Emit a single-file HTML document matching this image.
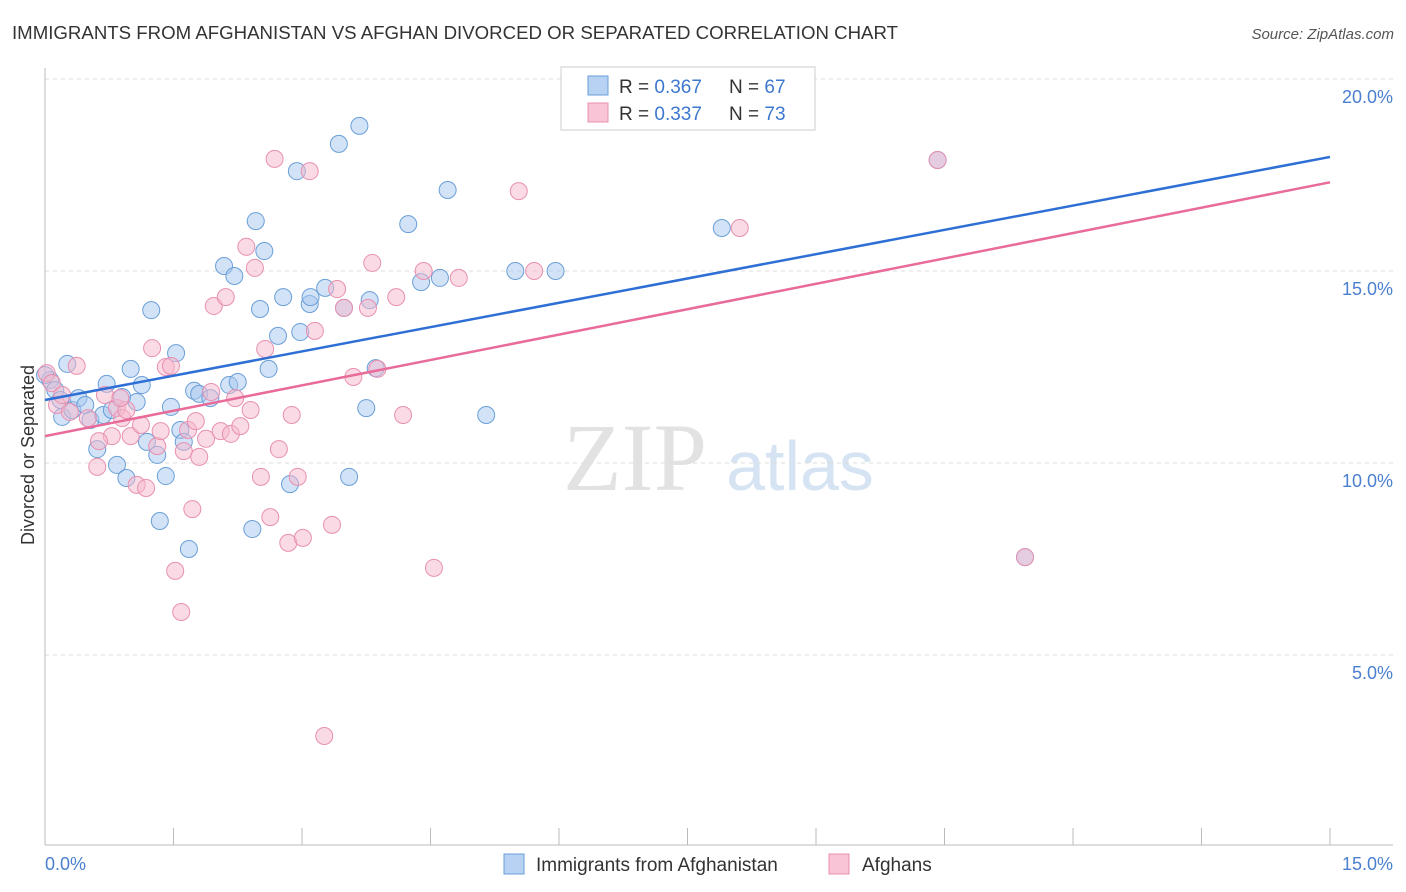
<!DOCTYPE html>
<html><head><meta charset="utf-8"><style>
body{margin:0;background:#fff;font-family:"Liberation Sans",sans-serif;}
svg{display:block}
</style></head><body>
<svg id="chart" width="1406" height="892" xmlns="http://www.w3.org/2000/svg">
<text x="12" y="39" font-size="18" fill="#333" textLength="886" lengthAdjust="spacingAndGlyphs">IMMIGRANTS FROM AFGHANISTAN VS AFGHAN DIVORCED OR SEPARATED CORRELATION CHART</text>
<text x="1394" y="39" font-size="15" fill="#555" font-style="italic" text-anchor="end">Source: ZipAtlas.com</text>
<g>
<text x="635" y="490" font-size="96" fill="#e2e2e2" font-family="Liberation Serif,serif" text-anchor="middle">ZIP</text>
<text x="800" y="490" font-size="70" fill="#d5e3f3" text-anchor="middle">atlas</text>
</g>
<g id="grid"></g>
<g id="axes"></g>
<g id="marks"></g>
<text transform="translate(34,455) rotate(-90)" font-size="18" fill="#333" text-anchor="middle">Divorced or Separated</text>
<text x="45" y="870" font-size="18" fill="#4a7fd0">0.0%</text>
<text x="1393" y="870" font-size="18" fill="#4a7fd0" text-anchor="end">15.0%</text>
<g>
<rect x="561" y="67" width="254" height="63" fill="#fff" stroke="#ccc"/>
<rect x="588" y="76" width="20" height="19" fill="#b7d2f3" stroke="#6a9fd8"/>
<rect x="588" y="103" width="20" height="19" fill="#f8c4d6" stroke="#e890b0"/>
<text x="619" y="93" font-size="19" fill="#333">R = <tspan fill="#3d78d0">0.367</tspan><tspan x="729">N = </tspan><tspan fill="#3d78d0">67</tspan></text>
<text x="619" y="120" font-size="19" fill="#333">R = <tspan fill="#3d78d0">0.337</tspan><tspan x="729">N = </tspan><tspan fill="#3d78d0">73</tspan></text>
</g>
<g>
<rect x="504" y="854" width="20" height="20" fill="#b7d2f3" stroke="#6a9fd8"/>
<text x="536" y="871" font-size="19" fill="#333">Immigrants from Afghanistan</text>
<rect x="829" y="854" width="20" height="20" fill="#f8c4d6" stroke="#e890b0"/>
<text x="862" y="871" font-size="19" fill="#333">Afghans</text>
</g>
</svg>
<script>
const yTicks=[5,10,15,20];
const yTickLabels=["5.0%","10.0%","15.0%","20.0%"];
const xTicks=[0,1.5,3,4.5,6,7.5,9,10.5,12,13.5,15];
const blueX=[0.06,0.12,0.18,0.26,0.20,0.32,0.39,0.47,0.53,0.61,0.68,0.72,0.78,0.84,0.90,0.95,1.00,1.07,1.13,1.19,1.24,1.31,1.34,1.41,1.47,1.53,1.58,1.62,1.68,1.74,1.80,1.93,2.09,2.15,2.21,2.25,2.46,2.42,2.51,2.56,2.61,2.72,2.78,2.86,2.94,2.98,3.09,3.10,3.27,3.43,3.49,3.55,3.67,3.75,3.79,3.86,4.24,4.39,4.61,4.70,5.15,5.49,5.96,7.90,10.42,11.44,0.00];
const blueY=[12.16,11.90,11.64,12.58,11.20,11.38,11.69,11.51,11.12,10.36,11.25,12.06,11.38,9.95,11.72,9.61,12.45,11.59,12.03,10.55,13.98,10.21,8.49,9.66,11.46,12.86,10.86,10.55,7.76,11.88,11.80,11.69,15.13,12.03,14.87,12.11,16.30,8.28,14.01,15.52,12.45,13.31,14.32,9.45,17.60,13.41,14.14,14.32,14.56,18.31,14.04,9.64,18.78,11.43,14.24,12.47,16.22,14.71,14.82,17.11,11.25,15.00,15.00,16.12,17.89,7.55,12.29];
const pinkX=[0.02,0.08,0.14,0.20,0.29,0.37,0.50,0.61,0.70,0.78,0.84,0.90,0.95,1.00,1.07,1.12,1.18,1.25,1.31,1.35,1.41,1.47,1.52,1.59,1.62,1.67,1.72,1.76,1.80,1.88,1.94,1.97,2.05,2.11,2.17,2.22,2.28,2.35,2.40,2.45,2.52,2.57,2.63,2.68,2.73,2.84,2.88,2.95,3.01,3.09,3.15,3.26,3.35,3.41,3.49,3.60,3.77,3.82,3.88,4.10,4.18,4.42,4.54,4.83,5.53,5.71,8.11,8.79,10.42,11.44,0.63,0.88];
const pinkY=[12.34,12.08,11.51,11.77,11.33,12.53,11.17,9.90,11.77,10.70,11.43,11.17,11.38,10.70,9.43,10.99,9.35,12.99,10.44,10.83,12.50,12.53,7.19,6.12,10.31,10.86,8.80,11.09,10.16,10.63,11.85,14.09,10.83,14.32,10.76,11.69,10.96,15.63,11.38,15.08,9.64,12.97,8.59,17.92,10.36,7.92,11.25,9.64,8.05,17.60,13.44,2.89,8.39,14.53,14.04,12.24,14.04,15.21,12.45,14.32,11.25,15.00,7.27,14.82,17.08,15.00,16.12,19.48,17.89,7.55,10.57,11.69];
const blueTrend=[11.64,17.97];
const pinkTrend=[10.70,17.31];
const NS="http://www.w3.org/2000/svg";
const sx=v=>45+v*(1285/15);
const sy=v=>847-v*38.4;
function mk(tag,attrs,parent){const e=document.createElementNS(NS,tag);for(const k in attrs)e.setAttribute(k,attrs[k]);parent.appendChild(e);return e;}
const grid=document.getElementById('grid'),axes=document.getElementById('axes'),marks=document.getElementById('marks');
yTicks.forEach((t,i)=>{
 const l=mk('line',{x1:45,x2:1393,y1:sy(t),y2:sy(t),stroke:'#ddd','stroke-dasharray':'4,4'},grid);
 
 
 const tx=mk('text',{x:1393,y:sy(t)+24,'font-size':18,fill:'#4a7fd0','text-anchor':'end'},grid);
 tx.textContent=yTickLabels[i];
 
 
});
const ax=mk('line',{x1:45,x2:1393,y1:845,y2:845,stroke:'#bbb'},axes);


const ay=mk('line',{x1:45,x2:45,y1:68,y2:845,stroke:'#bbb'},axes);


xTicks.forEach(t=>{
 const l=mk('line',{x1:sx(t),x2:sx(t),y1:828,y2:845,stroke:'#bbb'},axes);
 
 
});
function pts(X,Y,fill,stroke,name){X.forEach((x,i)=>{
 const c=mk('circle',{cx:sx(x),cy:sy(Y[i]),r:8.5,fill:fill,'fill-opacity':0.5,stroke:stroke,'stroke-width':1},marks);
 
 
});}
pts(blueX,blueY,'#a8c8f0','#6a9fd8','point-immigrants');
pts(pinkX,pinkY,'#f5b8cc','#e890b0','point-afghans');
const bl=mk('line',{x1:sx(0),y1:sy(blueTrend[0]),x2:sx(15),y2:sy(blueTrend[1]),stroke:'#2e6fd6','stroke-width':2.5},marks);


const pl=mk('line',{x1:sx(0),y1:sy(pinkTrend[0]),x2:sx(15),y2:sy(pinkTrend[1]),stroke:'#e86b9a','stroke-width':2.5},marks);


</script>
</body></html>
